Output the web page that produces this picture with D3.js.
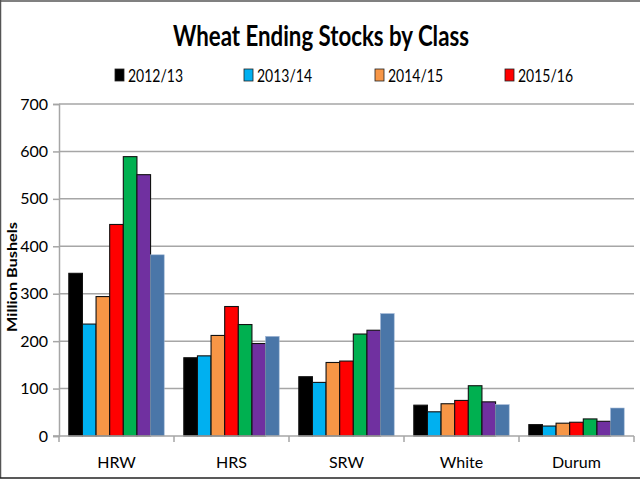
<!DOCTYPE html>
<html>
<head>
<meta charset="utf-8">
<script src="https://cdn.jsdelivr.net/npm/d3@7"></script>
<style>
  body { margin: 0; background: #fff; }
  text { font-family: Lato, "Open Sans", sans-serif; }
</style>
</head>
<body>
<script>
// chart data
var classes = ["HRW", "HRS", "SRW", "White", "Durum"];
var years = ["2012/13", "2013/14", "2014/15", "2015/16", "2016/17", "2017/18", "2018/19"];
var legendYears = ["2012/13", "2013/14", "2014/15", "2015/16"];
var hrw   = [343, 236, 294, 446, 589, 551, 382];
var hrs   = [165, 169, 212, 273, 235, 195, 210];
var srw   = [125, 113, 155, 158, 215, 223, 258];
var white = [65, 51, 68, 75, 106, 72, 66];
var durum = [24, 21, 27, 29, 36, 31, 59];
var yTicks = [0, 100, 200, 300, 400, 500, 600, 700];
var colors = ["#000000", "#00B0F0", "#F79646", "#FF0000", "#00B050", "#7030A0", "#4A76A8"];

var width = 640;
var height = 480;
var margin = { top: 104, right: 6, bottom: 44, left: 59 };

var svg = d3.select( "body" )
    .append( "svg" )
    .attr( "width", width )
    .attr( "height", height );

// frame
svg.append("line").attr("x1", 0).attr("x2", width).attr("y1", 1).attr("y2", 1)
    .attr("stroke", "#808080").attr("stroke-width", 2);
svg.append("line").attr("x1", 0.5).attr("x2", 0.5).attr("y1", 0).attr("y2", 478)
    .attr("stroke", "#555").attr("stroke-width", 1.5);
svg.append("line").attr("x1", 0).attr("x2", width).attr("y1", 478).attr("y2", 478)
    .attr("stroke", "#222").attr("stroke-width", 1.5);

var rows = [hrw, hrs, srw, white, durum];

var x0 = d3.scaleBand()
    .domain( classes )
    .range( [margin.left, width - margin.right] );

var x1 = d3.scaleBand()
    .domain( years )
    .range( [0, x0.bandwidth()] )
    .paddingOuter( 0.72 );

var y = d3.scaleLinear()
    .domain( [0, 700] )
    .range( [height - margin.bottom, margin.top] );

// gridlines
svg.append("g")
    .selectAll("line")
    .data(yTicks.slice(1))
    .enter()
    .append("line")
    .attr("x1", margin.left)
    .attr("x2", width - margin.right)
    .attr("y1", function(d) { return y(d); })
    .attr("y2", function(d) { return y(d); })
    .attr("stroke", "#a6a6a6")
    .attr("stroke-width", 1.5);

// y axis
var yAxis = svg.append("g")
    .attr("transform", "translate(" + margin.left + ",0)")
    .call(d3.axisLeft(y).tickValues(yTicks).tickSize(6).tickPadding(5));
yAxis.select(".domain").attr("stroke", "#a6a6a6").attr("stroke-width", 1.5);
yAxis.selectAll(".tick line").attr("stroke", "#a6a6a6").attr("stroke-width", 1.5);
yAxis.selectAll(".tick text")
    .attr("font-size", 16)
    .attr("fill", "#000")
    .style("font-family", "Lato, sans-serif");

// bars
var groups = svg.append("g")
    .selectAll("g")
    .data(classes)
    .enter()
    .append("g")
    .attr("transform", function(d) { return "translate(" + x0(d) + ",0)"; });

groups.selectAll("rect")
    .data(function(d, i) {
        return rows[i].map(function(v, j) { return { year: years[j], value: v, idx: j }; });
    })
    .enter()
    .append("rect")
    .attr("x", function(d) { return x1(d.year); })
    .attr("width", x1.bandwidth())
    .attr("y", function(d) { return y(d.value); })
    .attr("height", function(d) { return y(0) - y(d.value); })
    .attr("fill", function(d) { return colors[d.idx]; })
    .attr("stroke", function(d) { return d.idx === 6 ? "#9db4d4" : "#111"; })
    .attr("stroke-width", function(d) { return d.idx === 6 ? 0.6 : 1.1; });

// x axis
var xAxisG = svg.append("g")
    .attr("transform", "translate(0," + y(0) + ")");
xAxisG.append("line")
    .attr("x1", margin.left - 6)
    .attr("x2", width - margin.right)
    .attr("stroke", "#a6a6a6")
    .attr("stroke-width", 1.5);
xAxisG.selectAll(".sep")
    .data(classes.concat(["end"]))
    .enter()
    .append("line")
    .attr("class", "sep")
    .attr("x1", function(d, i) { return i < classes.length ? x0(d) : width - margin.right; })
    .attr("x2", function(d, i) { return i < classes.length ? x0(d) : width - margin.right; })
    .attr("y1", 0)
    .attr("y2", 6)
    .attr("stroke", "#a6a6a6")
    .attr("stroke-width", 1.5);
xAxisG.selectAll(".lbl")
    .data(classes)
    .enter()
    .append("text")
    .attr("class", "lbl")
    .attr("x", function(d) { return x0(d) + x0.bandwidth() / 2; })
    .attr("y", 32)
    .attr("text-anchor", "middle")
    .attr("font-size", 16)
    .text(function(d) { return d; });

// y axis title
svg.append("text")
    .attr("transform", "translate(17,277) rotate(-90)")
    .attr("text-anchor", "middle")
    .attr("font-size", 13)
    .attr("font-weight", "bold")
    .attr("textLength", 110)
    .attr("lengthAdjust", "spacingAndGlyphs")
    .text("Million Bushels");

// title
svg.append("text")
    .attr("x", 321)
    .attr("y", 46)
    .attr("text-anchor", "middle")
    .attr("font-size", 28)
    .attr("font-weight", "bold")
    .attr("textLength", 296)
    .attr("lengthAdjust", "spacingAndGlyphs")
    .text("Wheat Ending Stocks by Class");

// legend (only first four seasons)
var legendX = [115, 244, 375, 505];
var legend = svg.append("g")
    .selectAll("g")
    .data(legendYears)
    .enter()
    .append("g")
    .attr("transform", function(d, i) { return "translate(" + legendX[i] + ",69)"; });
legend.append("rect")
    .attr("width", 9)
    .attr("height", 12)
    .attr("fill", function(d, i) { return colors[i]; })
    .attr("stroke", "#222")
    .attr("stroke-width", 0.8);
legend.append("text")
    .attr("x", 13)
    .attr("y", 13)
    .attr("font-size", 18)
    .attr("textLength", 55)
    .attr("lengthAdjust", "spacingAndGlyphs")
    .text(function(d) { return d; });
</script>
</body>
</html>
